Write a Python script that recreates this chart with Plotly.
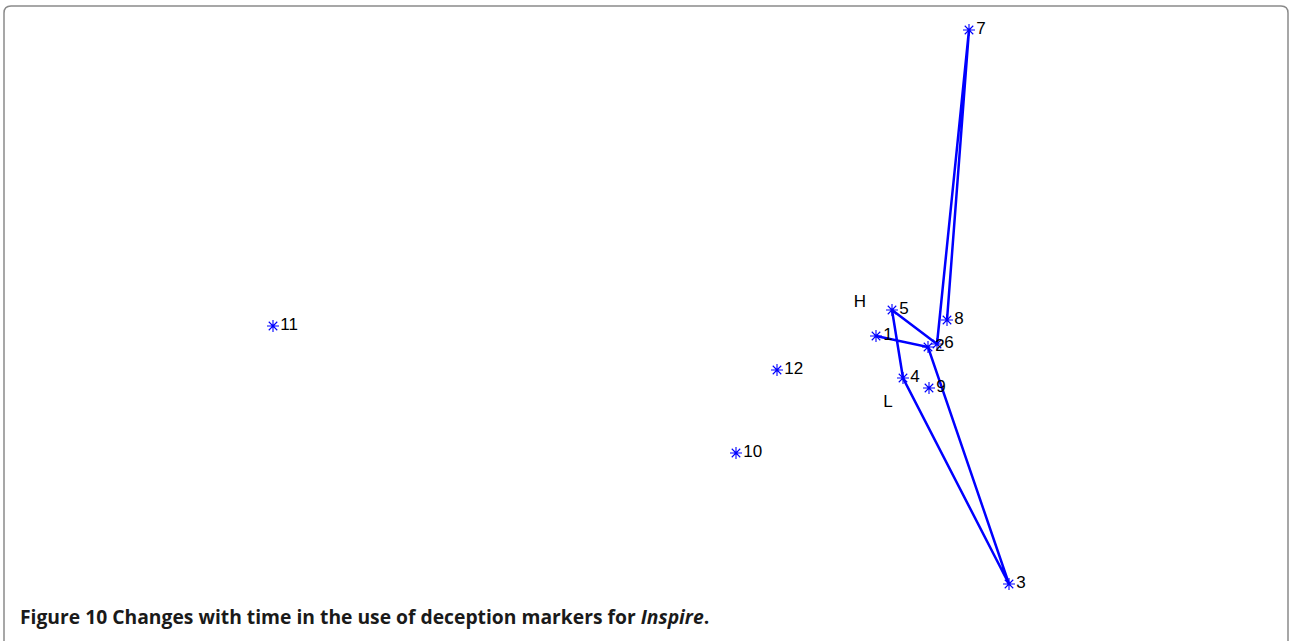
import plotly.graph_objects as go

# Two-dimensional scaling coordinates of the twelve time periods
labels = ["1", "2", "3", "4", "5", "6", "7", "8", "9", "10", "11", "12"]
x_vals = [1.76, 2.28, 3.09, 2.03, 1.92, 2.37, 2.69, 2.47, 2.29, 0.36, -4.27, 0.77]
y_vals = [0.64, 0.53, -1.84, 0.22, 0.90, 0.56, 3.70, 0.80, 0.12, -0.53, 0.74, 0.30]

# Periods joined in time order by the trajectory
path_count = 8

# Axis-pole labels
pole_text = ["H", "L"]
pole_x = [1.60, 1.88]
pole_y = [0.97, -0.03]

W, H = 1290, 641
BLUE = "#0000ff"
LABEL_FONT = dict(family="Liberation Sans, Arial, sans-serif", size=17, color="black")

fig = go.Figure()

fig.add_trace(go.Scatter(
    x=x_vals[:path_count], y=y_vals[:path_count],
    mode="lines",
    line=dict(color=BLUE, width=2.5),
    hoverinfo="skip", showlegend=False,
))

fig.add_trace(go.Scatter(
    x=x_vals, y=y_vals,
    mode="markers+text",
    text=labels,
    textposition="middle right",
    textfont=LABEL_FONT,
    marker=dict(symbol="asterisk-open", size=10, color=BLUE,
                line=dict(color=BLUE, width=1.1)),
    showlegend=False,
))

fig.add_trace(go.Scatter(
    x=pole_x, y=pole_y,
    mode="text",
    text=pole_text,
    textposition="middle center",
    textfont=LABEL_FONT,
    hoverinfo="skip", showlegend=False,
))

# Panel frame: rounded top corners, open at the bottom
def px(xp):
    return xp / W

def py(yp):
    return 1 - yp / H

r = 7
frame = (
    f"M {px(4)} {py(H + 2)} L {px(4)} {py(6 + r)} "
    f"Q {px(4)} {py(6)} {px(4 + r)} {py(6)} "
    f"L {px(1288 - r)} {py(6)} "
    f"Q {px(1288)} {py(6)} {px(1288)} {py(6 + r)} "
    f"L {px(1288)} {py(H + 2)}"
)

fig.update_layout(
    width=W, height=H,
    margin=dict(l=0, r=0, t=0, b=0),
    paper_bgcolor="white", plot_bgcolor="white",
    xaxis=dict(range=[-7.0, 5.9], visible=False, fixedrange=True),
    yaxis=dict(range=[-2.41, 4.0], visible=False, fixedrange=True),
    shapes=[dict(type="path", path=frame, xref="paper", yref="paper",
                 line=dict(color="#8a8a8a", width=1.5))],
    annotations=[dict(
        x=px(18), y=py(616.5), xref="paper", yref="paper",
        xanchor="left", yanchor="middle", showarrow=False,
        text="<b>Figure 10</b> <b>Changes with time in the use of deception markers for <i>Inspire</i>.</b>",
        font=dict(family="Open Sans, Noto Sans, sans-serif", size=19.3, color="#1a1a1a"),
    )],
)

fig.write_html("out.html")
